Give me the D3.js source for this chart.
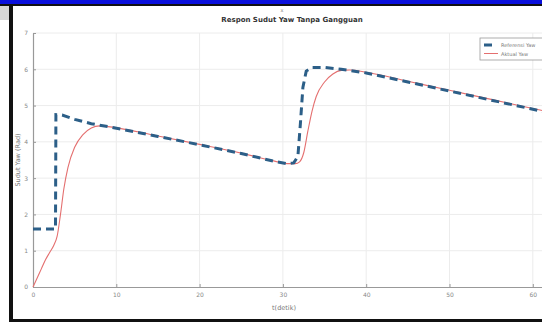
<!DOCTYPE html>
<html>
<head>
<meta charset="utf-8">
<script src="https://cdn.jsdelivr.net/npm/d3@7"></script>
<style>
  html, body { margin: 0; padding: 0; background: #fff; }
  svg { display: block; }
</style>
</head>
<body>
<div id="chart"></div>
<script>
// Reference (setpoint) yaw angle, [time s, rad]
const refTime = [0, 2.7, 2.75, 3.5, 5, 7, 9, 15, 20, 25, 29, 30.5, 31.3, 31.8, 32.1, 32.4, 32.8, 33.5, 35, 37, 40, 45, 50, 55, 60, 62];
const refYaw  = [1.6, 1.6, 4.75, 4.74, 4.62, 4.5, 4.42, 4.15, 3.92, 3.68, 3.46, 3.4, 3.42, 3.6, 4.5, 5.5, 5.95, 6.05, 6.05, 6.0, 5.9, 5.65, 5.4, 5.15, 4.9, 4.8];

// Actual yaw angle response
const actTime = [0, 0.5, 1, 1.5, 2, 2.5, 2.9, 3.3, 3.7, 4.2, 5, 6, 7, 8, 9, 15, 20, 25, 29, 30.5, 31.5, 32, 32.5, 33, 33.5, 34, 35, 36, 37, 38, 40, 45, 50, 55, 60, 62];
const actYaw  = [0, 0.25, 0.5, 0.75, 0.95, 1.15, 1.4, 2.0, 2.7, 3.3, 3.85, 4.2, 4.38, 4.44, 4.42, 4.16, 3.93, 3.69, 3.47, 3.4, 3.4, 3.45, 3.7, 4.3, 4.85, 5.25, 5.65, 5.87, 5.97, 5.98, 5.92, 5.67, 5.42, 5.17, 4.92, 4.82];

const xTicks = [0, 10, 20, 30, 40, 50, 60];
const yTicks = [0, 1, 2, 3, 4, 5, 6, 7];
const legendLabels = ['Referensi Yaw', 'Aktual Yaw'];

const W = 542, H = 324;
const plot = { left: 33, top: 33, bottom: 287 };

const svg = d3.select('#chart').append('svg').attr('width', W).attr('height', H);

// window frame bits
svg.append('rect').attr('x', 0).attr('y', 0).attr('width', W).attr('height', 4).attr('fill', '#0a10dc');
svg.append('rect').attr('x', 0).attr('y', 4).attr('width', W).attr('height', 2).attr('fill', '#111');
svg.append('rect').attr('x', 0).attr('y', 6).attr('width', 9).attr('height', 14).attr('fill', '#bbb').attr('opacity', 0.6);
svg.append('rect').attr('x', 9).attr('y', 5).attr('width', 4).attr('height', 317).attr('fill', '#111');
svg.append('rect').attr('x', 9).attr('y', 319).attr('width', W).attr('height', 3).attr('fill', '#111');

const x = d3.scaleLinear().domain([0, 62]).range([plot.left, plot.left + 62 * 8.33]);
const y = d3.scaleLinear().domain([0, 7]).range([plot.bottom, plot.top]);

const g = svg.append('g');

// grid
g.selectAll('line.vgrid').data(xTicks.slice(1)).join('line')
  .attr('class', 'vgrid')
  .attr('x1', (d) => x(d)).attr('x2', (d) => x(d))
  .attr('y1', plot.top).attr('y2', plot.bottom)
  .attr('stroke', '#ececec').attr('stroke-width', 1);
g.selectAll('line.hgrid').data(yTicks.slice(1)).join('line')
  .attr('class', 'hgrid')
  .attr('x1', plot.left).attr('x2', W)
  .attr('y1', (d) => y(d)).attr('y2', (d) => y(d))
  .attr('stroke', '#ececec').attr('stroke-width', 1);

// axes
g.append('g')
  .attr('transform', `translate(0,${plot.bottom})`)
  .call(d3.axisBottom(x).tickValues(xTicks).tickFormat(d3.format('d')).tickSize(-3).tickPadding(6).tickSizeOuter(0))
  .call((a) => a.selectAll('text').attr('fill', '#888').style('font-size', '6px').style('font-family', 'DejaVu Sans'))
  .call((a) => a.selectAll('line').attr('stroke', '#999'))
  .call((a) => a.select('.domain').attr('stroke', '#999').attr('stroke-width', 1.2));

g.append('g')
  .attr('transform', `translate(${plot.left},0)`)
  .call(d3.axisLeft(y).tickValues(yTicks).tickFormat(d3.format('d')).tickSize(-3).tickPadding(5).tickSizeOuter(0))
  .call((a) => a.selectAll('text').attr('fill', '#888').style('font-size', '6px').style('font-family', 'DejaVu Sans'))
  .call((a) => a.selectAll('line').attr('stroke', '#999'))
  .call((a) => a.select('.domain').attr('stroke', '#999').attr('stroke-width', 1.2));

const line = d3.line().x((d) => x(d[0])).y((d) => y(d[1])).curve(d3.curveMonotoneX);
const refData = refTime.map((t, i) => [t, refYaw[i]]);
const actData = actTime.map((t, i) => [t, actYaw[i]]);

g.append('path').datum(actData)
  .attr('d', line)
  .attr('fill', 'none')
  .attr('stroke', '#e46f6f')
  .attr('stroke-width', 1.1);

g.append('path').datum(refData)
  .attr('d', d3.line().x((d) => x(d[0])).y((d) => y(d[1])))
  .attr('fill', 'none')
  .attr('stroke', '#2c5f88')
  .attr('stroke-width', 3)
  .attr('stroke-dasharray', '8,5');

// titles
svg.append('text').attr('x', 292).attr('y', 22).attr('text-anchor', 'middle')
  .attr('fill', '#333').style('font-size', '7px').style('font-weight', 700).style('font-family', 'DejaVu Sans')
  .text('Respon Sudut Yaw Tanpa Gangguan');
svg.append('text').attr('x', 282).attr('y', 12).attr('text-anchor', 'middle')
  .attr('fill', '#888').style('font-size', '5px').style('font-family', 'DejaVu Sans')
  .text('x');
svg.append('text').attr('x', 284).attr('y', 310).attr('text-anchor', 'middle')
  .attr('fill', '#777').style('font-size', '6.5px').style('font-family', 'DejaVu Sans')
  .text('t(detik)');
svg.append('text').attr('transform', 'translate(20,160) rotate(-90)').attr('text-anchor', 'middle')
  .attr('fill', '#777').style('font-size', '6.5px').style('font-family', 'DejaVu Sans')
  .text('Sudut Yaw (Rad)');

// legend
const lg = svg.append('g').attr('transform', 'translate(480,38)');
lg.append('rect').attr('x', 0).attr('y', 0).attr('width', 80).attr('height', 22)
  .attr('fill', '#fff').attr('stroke', '#999').attr('stroke-width', 0.8);
lg.append('line').attr('x1', 4).attr('x2', 14).attr('y1', 7).attr('y2', 7)
  .attr('stroke', '#2c5f88').attr('stroke-width', 3).attr('stroke-dasharray', '8,5');
lg.append('line').attr('x1', 4).attr('x2', 18).attr('y1', 15.5).attr('y2', 15.5)
  .attr('stroke', '#e46f6f').attr('stroke-width', 1);
lg.selectAll('text').data(legendLabels).join('text')
  .attr('x', 21).attr('y', (d, i) => 9 + i * 8.5)
  .attr('fill', '#777').style('font-size', '5px').style('font-family', 'DejaVu Sans')
  .text((d) => d);
</script>
</body>
</html>
